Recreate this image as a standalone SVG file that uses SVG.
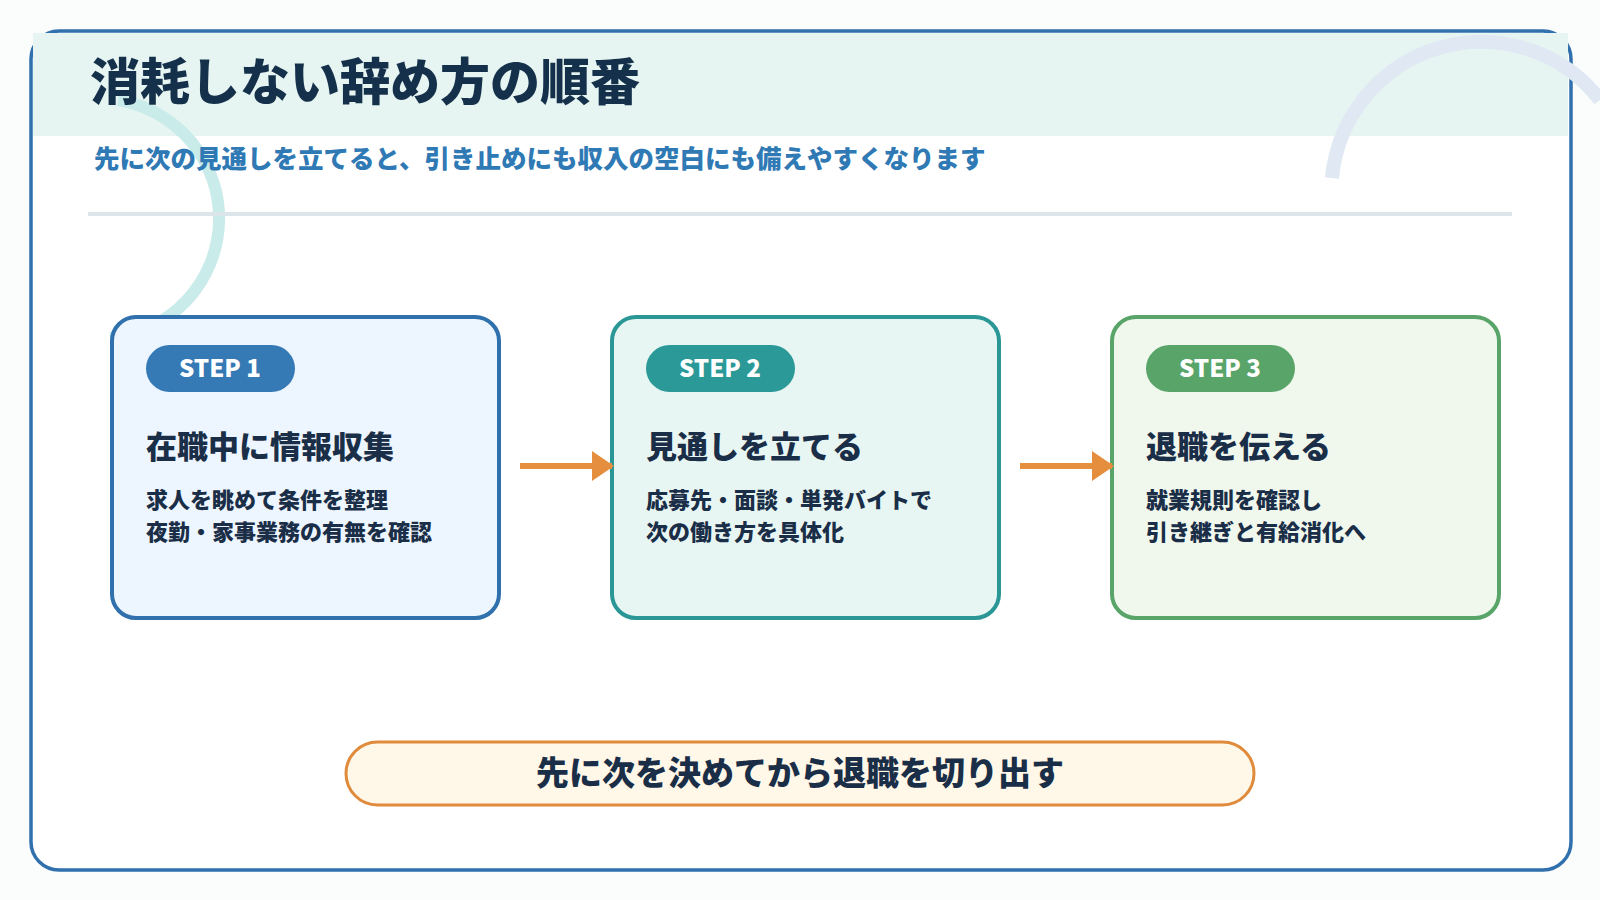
<svg xmlns="http://www.w3.org/2000/svg" width="1600" height="900" viewBox="0 0 1600 900">
<style>
text{font-family:"Noto Sans CJK JP","Noto Sans",sans-serif;font-weight:900}
.h{font-size:31px;fill:#1a2e48}
.b{font-size:22px;fill:#1a2e48}
.p{font-size:24px;fill:#fff;text-anchor:middle}
</style>
<defs>
<marker id="ah" markerWidth="22" markerHeight="30" refX="20" refY="15" orient="auto" markerUnits="userSpaceOnUse" viewBox="0 0 22 30"><path d="M0,0L22,15L0,30z" fill="#e58e3e"/></marker>
</defs>
<rect width="1600" height="900" fill="#fbfdfd"/>
<rect x="31" y="31" width="1540" height="839" rx="28" fill="#fff" stroke="#2f70ad" stroke-width="3.5"/>
<rect x="33" y="33" width="1535" height="103" fill="#e6f5f1"/>
<path d="M118,100 A120,120 0 0 1 110,338" fill="none" stroke="#c9ebe9" stroke-width="12"/>
<path d="M1332,178 A150,150 0 0 1 1600,100" fill="none" stroke="#dfe8f3" stroke-width="14"/>
<text x="90" y="100" font-size="50" fill="#15304a">消耗しない辞め方の順番</text>
<text x="94" y="168" font-size="25.5" fill="#2f79b5">先に次の見通しを立てると、引き止めにも収入の空白にも備えやすくなります</text>
<rect x="88" y="212" width="1424" height="4" fill="#dbe5ea"/>
<g id="step1">
<rect x="112" y="317" width="387" height="301" rx="24" fill="#edf6fe" stroke="#2f70ad" stroke-width="4"/>
<rect x="146" y="345" width="149" height="47" rx="23.5" fill="#3579b5"/>
<text class="p" x="220" y="377">STEP 1</text>
<text class="h" x="146" y="458">在職中に情報収集</text>
<text class="b" x="146" y="508">求人を眺めて条件を整理</text>
<text class="b" x="146" y="540">夜勤・家事業務の有無を確認</text>
</g>
<g id="step2">
<rect x="612" y="317" width="387" height="301" rx="24" fill="#e8f6f3" stroke="#2a9796" stroke-width="4"/>
<rect x="646" y="345" width="149" height="47" rx="23.5" fill="#2b9997"/>
<text class="p" x="720" y="377">STEP 2</text>
<text class="h" x="646" y="458">見通しを立てる</text>
<text class="b" x="646" y="508">応募先・面談・単発バイトで</text>
<text class="b" x="646" y="540">次の働き方を具体化</text>
</g>
<g id="step3">
<rect x="1112" y="317" width="387" height="301" rx="24" fill="#f0f8ee" stroke="#58a469" stroke-width="4"/>
<rect x="1146" y="345" width="149" height="47" rx="23.5" fill="#58a469"/>
<text class="p" x="1220" y="377">STEP 3</text>
<text class="h" x="1146" y="458">退職を伝える</text>
<text class="b" x="1146" y="508">就業規則を確認し</text>
<text class="b" x="1146" y="540">引き継ぎと有給消化へ</text>
</g>
<g id="connectors" stroke="#e58e3e" stroke-width="6" marker-end="url(#ah)">
<line x1="520" y1="466" x2="612" y2="466"/>
<line x1="1020" y1="466" x2="1112" y2="466"/>
</g>
<g id="summary">
<rect x="346" y="742" width="908" height="63" rx="31.5" fill="#fff7e7" stroke="#e08a3c" stroke-width="3"/>
<text x="800" y="785" font-size="33" fill="#1a2e48" text-anchor="middle">先に次を決めてから退職を切り出す</text>
</g>
</svg>
